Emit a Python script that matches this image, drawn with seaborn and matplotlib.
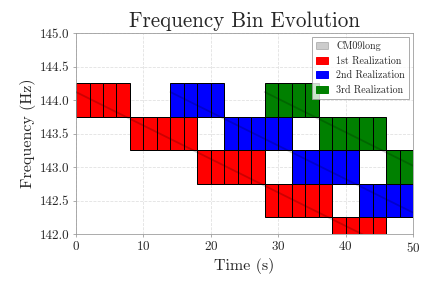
import numpy as np
import pandas as pd
import seaborn as sns
import matplotlib
matplotlib.use("Agg")
import matplotlib.pyplot as plt
from matplotlib.patches import Patch

# frequency bins chosen by each realization: segment start/end time (s) and bin centre (Hz)
red_start = [0, 8, 18, 28, 38]
red_end = [8, 18, 28, 38, 46]
red_freq = [144.0, 143.5, 143.0, 142.5, 142.0]

blue_start = [14, 22, 32, 42]
blue_end = [22, 32, 42, 50]
blue_freq = [144.0, 143.5, 143.0, 142.5]

green_start = [28, 36, 46]
green_end = [36, 46, 50]
green_freq = [144.0, 143.5, 143.0]

# CM09long signal tracks (start / end points)
track_time = {"1st": [0, 50], "2nd": [14, 50], "3rd": [28, 50]}
track_freq = {"1st": [144.12, 141.62], "2nd": [144.12, 142.32], "3rd": [144.12, 143.02]}

labels = ["1st Realization", "2nd Realization", "3rd Realization"]
colors = ["red", "blue", "green"]
cell_w = 2
bin_h = 0.5

sns.set_style("whitegrid", {"grid.linestyle": "--", "grid.color": "0.88",
                            "axes.edgecolor": "0.6", "xtick.bottom": True,
                            "ytick.left": True})
plt.rcParams['font.family'] = 'serif'
plt.rcParams['font.serif'] = ['cmr10', 'DejaVu Serif']
plt.rcParams['mathtext.fontset'] = 'cm'
plt.rcParams['axes.formatter.use_mathtext'] = True

fig, ax = plt.subplots(figsize=(6, 4), dpi=72)
fig.subplots_adjust(left=0.176, right=0.956, top=0.885, bottom=0.1875)

for st, en, fr, col in [(red_start, red_end, red_freq, "red"),
                        (blue_start, blue_end, blue_freq, "blue"),
                        (green_start, green_end, green_freq, "green")]:
    for s, e, f in zip(st, en, fr):
        cells = np.arange(s, e, cell_w)
        ax.bar(cells, bin_h, bottom=f - bin_h / 2, width=cell_w, align='edge',
               color=col, edgecolor='black', linewidth=1.0, zorder=2)

tracks = pd.concat([pd.DataFrame({"t": track_time[k], "f": track_freq[k], "real": k})
                    for k in track_time])
sns.lineplot(data=tracks, x="t", y="f", units="real", estimator=None,
             color="black", alpha=0.2, linewidth=1.8, ax=ax, zorder=3)

ax.set_xlim(0, 50)
ax.set_ylim(142.0, 145.0)
ax.set_yticks(np.arange(142.0, 145.01, 0.5))
ax.set_yticklabels([f"{v:.1f}" for v in np.arange(142.0, 145.01, 0.5)])
ax.tick_params(labelsize=13, length=3, color="0.6")
ax.set_xlabel("Time (s)", fontsize=16)
ax.set_ylabel("Frequency (Hz)", fontsize=16)
ax.set_title("Frequency Bin Evolution", fontsize=21)
for sp in ax.spines.values():
    sp.set_visible(True)
    sp.set_color("0.6")

handles = [Patch(color="black", alpha=0.2, label="CM09long")]
handles += [Patch(color=c, label=l) for c, l in zip(colors, labels)]
leg = ax.legend(handles=handles, loc="upper right", fontsize=10, frameon=True,
                fancybox=False, edgecolor="0.6", handlelength=1.2,
                borderaxespad=0.4)
leg.set_zorder(5)

fig.savefig("out.png", dpi=72)
